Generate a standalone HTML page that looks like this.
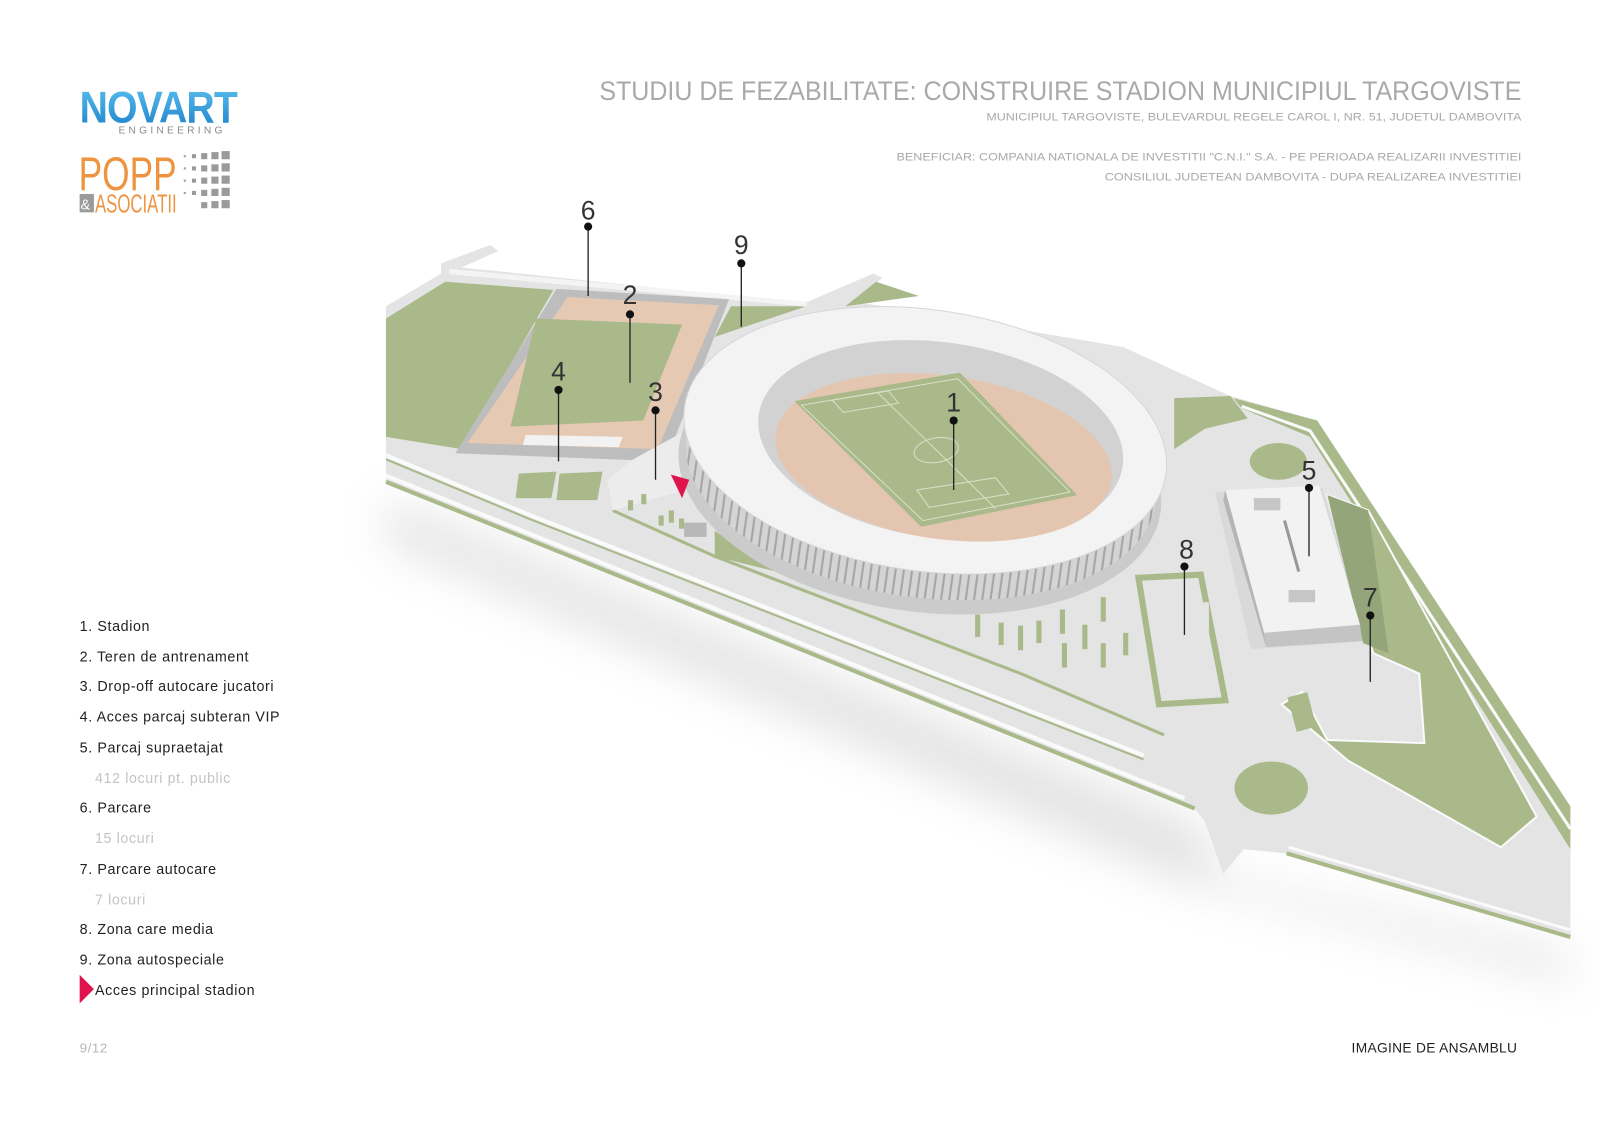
<!DOCTYPE html>
<html><head><meta charset="utf-8"><style>
html,body{margin:0;padding:0;background:#fff;}
svg{display:block}
</style></head><body>
<svg width="1600" height="1131" viewBox="0 0 1567 1108" preserveAspectRatio="none" xmlns="http://www.w3.org/2000/svg" font-family="Liberation Sans, sans-serif">
<defs>
<filter id="blur" x="-20%" y="-20%" width="140%" height="140%"><feGaussianBlur stdDeviation="22"/></filter>
<linearGradient id="blue" x1="0" y1="0" x2="0" y2="1"><stop offset="0" stop-color="#5fc3f0"/><stop offset="1" stop-color="#1a7fc9"/></linearGradient>
<pattern id="cols" width="8" height="40" patternUnits="userSpaceOnUse"><rect width="8" height="40" fill="#d4d4d4"/><rect x="5" width="2" height="40" fill="#a4a4a4"/></pattern>
</defs>

<!-- header -->
<text x="587" y="98" font-size="26" fill="#a9a9a9" textLength="903" lengthAdjust="spacingAndGlyphs">STUDIU DE FEZABILITATE: CONSTRUIRE STADION MUNICIPIUL TARGOVISTE</text>
<text x="966" y="118" font-size="11" fill="#a9a9a9" textLength="524" lengthAdjust="spacingAndGlyphs">MUNICIPIUL TARGOVISTE, BULEVARDUL REGELE CAROL I, NR. 51, JUDETUL DAMBOVITA</text>
<text x="878" y="157" font-size="11" fill="#a9a9a9" textLength="612" lengthAdjust="spacingAndGlyphs">BENEFICIAR: COMPANIA NATIONALA DE INVESTITII "C.N.I." S.A. - PE PERIOADA REALIZARII INVESTITIEI</text>
<text x="1082" y="177" font-size="11" fill="#a9a9a9" textLength="408" lengthAdjust="spacingAndGlyphs">CONSILIUL JUDETEAN DAMBOVITA - DUPA REALIZAREA INVESTITIEI</text>

<!-- logos -->
<text x="78" y="120" font-size="44" font-weight="bold" fill="url(#blue)" letter-spacing="-1" textLength="154" lengthAdjust="spacingAndGlyphs">NOVART</text>
<text x="116" y="131" font-size="10" fill="#8a8a8a" letter-spacing="3.2">ENGINEERING</text>
<text x="77" y="186" font-size="46" fill="#ee9440" textLength="96" lengthAdjust="spacingAndGlyphs">POPP</text>
<rect x="78" y="190" width="14" height="18" fill="#9a9a9a"/>
<text x="79" y="205" font-size="14" fill="#fff">&amp;</text>
<text x="93" y="208" font-size="25" fill="#ee9440" textLength="80" lengthAdjust="spacingAndGlyphs">ASOCIATII</text>
<g fill="#9a9a9a">
<rect x="180" y="152" width="2" height="2"/><rect x="188" y="151" width="4" height="4"/><rect x="197" y="150" width="6" height="6"/><rect x="207" y="149" width="7" height="7"/><rect x="217" y="148" width="8" height="8"/>
<rect x="180" y="164" width="2" height="2"/><rect x="188" y="163" width="4" height="4"/><rect x="197" y="162" width="6" height="6"/><rect x="207" y="161" width="7" height="7"/><rect x="217" y="160" width="8" height="8"/>
<rect x="180" y="176" width="2" height="2"/><rect x="188" y="175" width="4" height="4"/><rect x="197" y="174" width="6" height="6"/><rect x="207" y="173" width="7" height="7"/><rect x="217" y="172" width="8" height="8"/>
<rect x="180" y="188" width="2" height="2"/><rect x="188" y="187" width="4" height="4"/><rect x="197" y="186" width="6" height="6"/><rect x="207" y="185" width="7" height="7"/><rect x="217" y="184" width="8" height="8"/>
<rect x="197" y="198" width="6" height="6"/><rect x="207" y="197" width="7" height="7"/><rect x="217" y="196" width="8" height="8"/>
</g>

<!-- legend -->
<g font-size="14" fill="#222" letter-spacing="0.6">
<text x="78" y="618">1.  Stadion</text>
<text x="78" y="648">2. Teren de antrenament</text>
<text x="78" y="677">3. Drop-off autocare jucatori</text>
<text x="78" y="707">4. Acces parcaj subteran VIP</text>
<text x="78" y="737">5. Parcaj supraetajat</text>
<text x="93" y="767" fill="#c4c4c4">412 locuri pt. public</text>
<text x="78" y="796">6. Parcare</text>
<text x="93" y="826" fill="#c4c4c4">15 locuri</text>
<text x="78" y="856">7.  Parcare autocare</text>
<text x="93" y="886" fill="#c4c4c4">7 locuri</text>
<text x="78" y="915">8. Zona care media</text>
<text x="78" y="945">9. Zona autospeciale</text>
<text x="93" y="975">Acces principal stadion</text>
</g>
<polygon points="78,955 92,969 78,983" fill="#e0144c"/>
<text x="78" y="1031" font-size="13" fill="#b5b5b5" letter-spacing="0.6">9/12</text>
<text x="1486" y="1031" text-anchor="end" font-size="13.5" fill="#222" letter-spacing="0.3">IMAGINE DE ANSAMBLU</text>

<!-- site shadow -->
<polygon points="378,490 1170,805 1200,860 1538,935 1538,960 1150,860 378,530" fill="#9a9a9a" opacity="0.28" filter="url(#blur)"/>

<!-- site base -->
<polygon points="378,300 432,268 432,258 480,240 488,246 452,262 700,288 790,296 855,268 864,272 840,296 1100,340 1205,388 1290,412 1538,790 1538,918 1260,836 1218,832 1198,856 1180,805 1170,792 378,472" fill="#e4e4e4"/>
<polyline points="378,472 1170,792" fill="none" stroke="#a9b98a" stroke-width="4"/>
<polyline points="378,466 1160,782" fill="none" stroke="#fafafa" stroke-width="4"/>
<polyline points="1260,836 1538,918" fill="none" stroke="#a9b98a" stroke-width="4"/>
<polyline points="1262,830 1538,911" fill="none" stroke="#fafafa" stroke-width="3"/>
<polyline points="378,446 520,505 1120,740" fill="none" stroke="#fafafa" stroke-width="4"/>
<polyline points="378,450 520,509 1120,744" fill="none" stroke="#a9b98a" stroke-width="2"/>
<polyline points="600,500 700,545 1000,660 1140,720" fill="none" stroke="#a9b98a" stroke-width="3"/>

<!-- left green field -->
<polygon points="378,312 436,276 542,284 452,440 378,428" fill="#a9b98a"/>
<polygon points="716,300 790,300 700,330" fill="#a9b98a"/>
<polygon points="828,300 858,276 900,290" fill="#a9b98a"/>
<polyline points="440,266 790,298" stroke="#f4f4f4" stroke-width="5" fill="none"/>

<!-- training pitch -->
<polygon points="545,283 714,293 652,452 446,444" fill="#bdbdbd"/>
<polygon points="556,291 704,299 644,440 458,434" fill="#e6c9b3"/>
<polygon points="525,312 668,318 630,412 500,418" fill="#a9b98a"/>
<polygon points="515,426 610,428 606,438 512,436" fill="#f2f2f2"/>
<polygon points="508,464 545,462 540,488 505,488" fill="#a9b98a"/>
<polygon points="548,464 590,462 585,490 545,490" fill="#a9b98a"/>
<polygon points="620,450 675,420 672,480 600,500 595,470" fill="#ececec"/>
<g fill="#a9b98a">
<rect x="615" y="490" width="5" height="10"/><rect x="628" y="484" width="5" height="10"/>
<rect x="645" y="505" width="5" height="10"/><rect x="655" y="500" width="5" height="12"/><rect x="665" y="508" width="5" height="10"/>
<polygon points="700,520 760,560 700,545"/>
</g>
<rect x="670" y="512" width="22" height="14" fill="#b8b8b8"/>

<!-- stadium -->
<g transform="rotate(8 910 440)">
<ellipse cx="905" cy="470" rx="238" ry="130" fill="#cbcbcb"/>
<ellipse cx="905" cy="462" rx="232" ry="124" fill="url(#cols)"/>
<ellipse cx="905" cy="432" rx="238" ry="128" fill="#f3f3f3"/>
<ellipse cx="905" cy="432" rx="238" ry="128" fill="none" stroke="#d6d6d6" stroke-width="1"/>
<ellipse cx="920" cy="430" rx="180" ry="96" fill="#d2d2d2"/>
<ellipse cx="925" cy="446" rx="166" ry="80" fill="#e4c6b0"/>
</g>
<polygon points="778,393 940,365 1055,485 902,516" fill="#a9b98a"/>
<g stroke="#d8e0c8" stroke-width="1" fill="none">
<polygon points="785,397 938,371 1048,482 904,510"/>
<line x1="860" y1="385" x2="975" y2="498"/>
<ellipse cx="917" cy="441" rx="22" ry="12" transform="rotate(-10 917 441)"/>
<polygon points="815,392 870,383 880,395 826,404"/>
<polygon points="898,480 975,468 988,484 910,497"/>
</g>

<!-- right area -->
<polygon points="1150,390 1205,388 1222,410 1180,420 1150,440" fill="#a9b98a"/>
<polygon points="1208,390 1290,412 1538,790 1538,832 1283,428 1216,400" fill="#a9b98a"/>
<polyline points="1216,398 1283,422 1538,812" fill="none" stroke="#fafafa" stroke-width="3"/>
<ellipse cx="1252" cy="452" rx="28" ry="18" fill="#a9b98a"/>
<polygon points="1300,485 1340,500 1505,800 1470,830 1320,745 1255,690 1275,678 1300,725 1395,728 1390,660 1345,640 1332,600" fill="#a9b98a"/>
<polygon points="1300,485 1340,500 1505,800 1470,830 1320,745 1255,690 1275,678 1300,725 1395,728 1390,660 1345,640 1332,600" fill="none" stroke="#fafafa" stroke-width="2"/>
<ellipse cx="1245" cy="772" rx="36" ry="26" fill="#a9b98a"/>
<polygon points="1190,482 1295,478 1340,628 1225,636" fill="#d9d9d9"/>
<polygon points="1300,485 1340,500 1360,640 1335,630" fill="#94a57a"/>
<polygon points="1200,480 1292,476 1332,612 1238,620" fill="#f2f2f2"/>
<polygon points="1200,480 1238,620 1240,634 1198,490" fill="#b5b5b5"/>
<polygon points="1238,620 1332,612 1334,628 1240,634" fill="#c4c4c4"/>
<rect x="1228" y="488" width="26" height="12" fill="#c6c6c6"/>
<rect x="1262" y="578" width="26" height="12" fill="#c6c6c6"/>
<line x1="1258" y1="510" x2="1272" y2="560" stroke="#999" stroke-width="3"/>
<polygon points="1115,566 1176,563 1200,686 1135,690" fill="none" stroke="#a9b98a" stroke-width="6"/>
<rect x="1170" y="590" width="14" height="36" fill="#e4e4e4"/>
<g fill="#a9b98a">
<rect x="955" y="602" width="5" height="22"/><rect x="978" y="610" width="5" height="22"/><rect x="997" y="613" width="5" height="24"/><rect x="1015" y="608" width="5" height="22"/>
<rect x="1038" y="597" width="5" height="24"/><rect x="1060" y="612" width="5" height="24"/><rect x="1078" y="585" width="5" height="24"/><rect x="1078" y="630" width="5" height="24"/><rect x="1100" y="620" width="5" height="22"/><rect x="1040" y="630" width="5" height="24"/>
</g>
<rect x="1265" y="680" width="20" height="35" fill="#a9b98a" transform="rotate(-15 1275 697)"/>

<!-- labels -->
<g stroke="#222" stroke-width="1.3">
<line x1="576" y1="222" x2="576" y2="290"/>
<line x1="726" y1="258" x2="726" y2="320"/>
<line x1="617" y1="308" x2="617" y2="375"/>
<line x1="547" y1="382" x2="547" y2="452"/>
<line x1="642" y1="402" x2="642" y2="470"/>
<line x1="934" y1="412" x2="934" y2="480"/>
<line x1="1282" y1="478" x2="1282" y2="545"/>
<line x1="1160" y1="555" x2="1160" y2="622"/>
<line x1="1342" y1="603" x2="1342" y2="668"/>
</g>
<g fill="#111">
<circle cx="576" cy="222" r="4"/><circle cx="726" cy="258" r="4"/><circle cx="617" cy="308" r="4"/>
<circle cx="547" cy="382" r="4"/><circle cx="642" cy="402" r="4"/><circle cx="934" cy="412" r="4"/>
<circle cx="1282" cy="478" r="4"/><circle cx="1160" cy="555" r="4"/><circle cx="1342" cy="603" r="4"/>
</g>
<g font-size="26" fill="#333" text-anchor="middle">
<text x="576" y="215">6</text><text x="726" y="249">9</text><text x="617" y="298">2</text>
<text x="547" y="373">4</text><text x="642" y="393">3</text><text x="934" y="403">1</text>
<text x="1282" y="470">5</text><text x="1162" y="547">8</text><text x="1342" y="594">7</text>
</g>
<polygon points="657,465 675,470 668,488" fill="#e0144c"/>
</svg>
</body></html>
